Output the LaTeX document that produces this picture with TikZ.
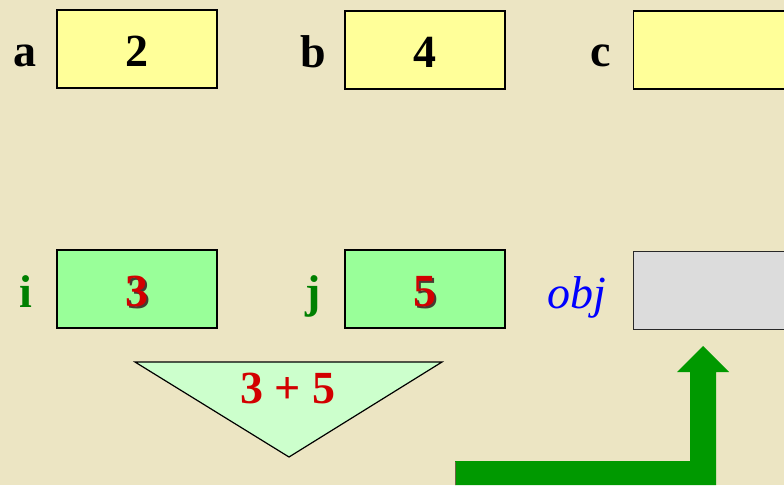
\documentclass[tikz,border=0pt]{standalone}
\usepackage{fontspec}
\setmainfont{Liberation Serif}
\newfontfamily\bserif{Liberation Serif Bold}
\definecolor{redtx}{RGB}{210,0,0}
\definecolor{shad}{RGB}{70,60,50}
\newcommand{\shadowdigit}[1]{\makebox[0pt][l]{\hspace{2pt}\raisebox{-2pt}{\textcolor{shad}{#1}}}\textcolor{redtx}{#1}}
\begin{document}
\begin{tikzpicture}[x=1pt,y=-1pt,
  bg/.style={fill={rgb,255:red,236;green,229;blue,195}},
  varbox/.style={draw=black,line width=1.3pt,minimum width=160pt,minimum height=78pt,inner sep=0pt},
  ybox/.style={varbox,fill={rgb,255:red,255;green,255;blue,153}},
  gbox/.style={varbox,fill={rgb,255:red,153;green,255;blue,153}},
  obox/.style={varbox,draw={rgb,255:red,40;green,40;blue,40},fill={rgb,255:red,220;green,220;blue,220}},
  big/.style={font=\fontsize{46}{50}\selectfont\bserif,inner sep=0pt,anchor=base},
  lbl/.style={big,text=black},
  glbl/.style={big,text={rgb,255:red,0;green,128;blue,0}},
  redtxt/.style={big,text=redtx},
  objlbl/.style={font=\fontsize{46}{50}\selectfont\itshape,inner sep=0pt,anchor=base,text={rgb,255:red,0;green,0;blue,255}},
  arrowfill/.style={fill={rgb,255:red,0;green,153;blue,0}}
]
\useasboundingbox (0,0) rectangle (784,485);
\fill[bg] (0,0) rectangle (784,485);

% top row
\node[ybox] (boxa) at (137,49) {};
\node[ybox] (boxb) at (425,50) {};
\node[ybox,anchor=west] (boxc) at (633,50) {};
\node[lbl] (la) at (25,66) {a};
\node[lbl] (va) at (137,66) {2};
\node[lbl] (lb) at (313,67) {b};
\node[lbl] (vb) at (425,67) {4};
\node[lbl] (lc) at (601,66) {c};

% second row
\node[gbox] (boxi) at (137,289) {};
\node[gbox] (boxj) at (425,289) {};
\node[obox,anchor=west] (boxobj) at (633,290.5) {};
\node[glbl] (li) at (26,307) {i};
\node[glbl] (lj) at (313,307) {j};
\node[objlbl] (lobj) at (577,308) {obj};
\node[big] (vi) at (137,306) {\shadowdigit{3}};
\node[big] (vj) at (425,306) {\shadowdigit{5}};

% triangle
\draw[line width=1.2pt,fill={rgb,255:red,204;green,255;blue,204},line join=miter]
  (135,362) coordinate (t1) -- (442,362) coordinate (t2) -- (289,457) coordinate (t3) -- cycle;
\node[redtxt] (sum) at (288,403) {3 + 5};

% green arrow
\fill[arrowfill] (455,485) -- (455,461) -- (690,461) -- (690,372) -- (677,372)
  -- (703,346) coordinate (tip) -- (729,372) -- (716,372) -- (716,485) -- cycle;
\draw[line width=1.5pt,draw={rgb,255:red,110;green,100;blue,70}] (455.5,462) -- (455.5,485);
\end{tikzpicture}
\end{document}
